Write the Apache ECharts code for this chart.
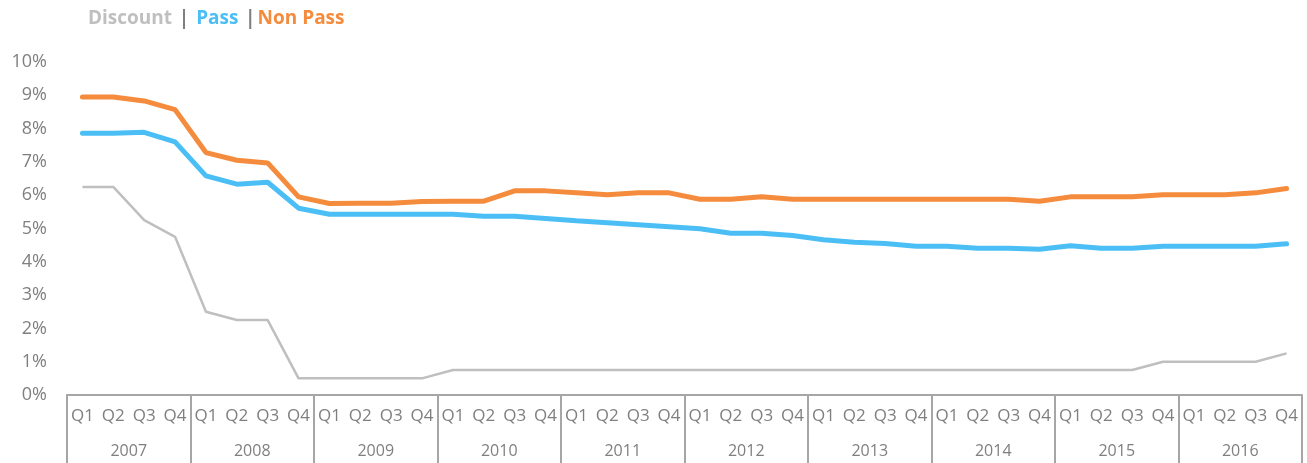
<!DOCTYPE html>
<html>
<head>
<meta charset="utf-8">
<script src="https://cdn.jsdelivr.net/npm/echarts@6/dist/echarts.min.js"></script>
<style>
  html, body { margin: 0; padding: 0; background: #fff; }
  #chart { width: 1307px; height: 463px; }
</style>
</head>
<body>
<div id="chart"></div>
<script>
const years = ["2007", "2008", "2009", "2010", "2011", "2012", "2013", "2014", "2015", "2016"];
const quarterNames = ["Q1", "Q2", "Q3", "Q4"];
const yTicks = [0, 1, 2, 3, 4, 5, 6, 7, 8, 9, 10];

// rates in %, one per quarter 2007 Q1 .. 2016 Q4
const discount = [
  6.25, 6.25, 5.25, 4.75, 2.5, 2.25, 2.25, 0.5, 0.5, 0.5,
  0.5, 0.5, 0.75, 0.75, 0.75, 0.75, 0.75, 0.75, 0.75, 0.75,
  0.75, 0.75, 0.75, 0.75, 0.75, 0.75, 0.75, 0.75, 0.75, 0.75,
  0.75, 0.75, 0.75, 0.75, 0.75, 1.0, 1.0, 1.0, 1.0, 1.25
];
const pass = [
  7.86, 7.86, 7.89, 7.60, 6.58, 6.33, 6.39, 5.61, 5.43, 5.43,
  5.43, 5.43, 5.43, 5.37, 5.37, 5.30, 5.23, 5.17, 5.11, 5.05,
  4.99, 4.86, 4.86, 4.79, 4.66, 4.59, 4.55, 4.47, 4.47, 4.41,
  4.41, 4.38, 4.48, 4.41, 4.41, 4.47, 4.47, 4.47, 4.47, 4.54
];
const nonPass = [
  8.95, 8.95, 8.83, 8.57, 7.28, 7.05, 6.97, 5.95, 5.75, 5.76,
  5.76, 5.81, 5.82, 5.82, 6.13, 6.13, 6.07, 6.01, 6.07, 6.07,
  5.88, 5.88, 5.95, 5.88, 5.88, 5.88, 5.88, 5.88, 5.88, 5.88,
  5.88, 5.82, 5.95, 5.95, 5.95, 6.01, 6.01, 6.01, 6.07, 6.20
];

const quarters = [];
years.forEach(y => quarterNames.forEach(q => quarters.push(q)));

const chart = echarts.init(document.getElementById("chart"));
const labelFont = "'Open Sans', 'Noto Sans', sans-serif";
const axisGray = "#a6a6a6";
const textGray = "#7f7f7f";

const option = {
  animation: false,
  textStyle: { fontFamily: labelFont },
  title: {
    left: 83,
    top: 4,
    text: "{d|Discount} {s|| }{p|Pass} {s||}{n|Non Pass}",
    textStyle: {
      rich: {
        d: { color: "#bfbfbf", fontSize: 19, fontWeight: "bold", fontFamily: labelFont },
        s: { color: textGray, fontSize: 19, fontWeight: "bold", fontFamily: labelFont, padding: [0, 2] },
        p: { color: "#4bbff5", fontSize: 19, fontWeight: "bold", fontFamily: labelFont },
        n: { color: "#f58b3c", fontSize: 19, fontWeight: "bold", fontFamily: labelFont }
      }
    }
  },
  grid: { left: 67, right: 5, top: 62, bottom: 68 },
  xAxis: [
    {
      type: "category",
      data: quarters,
      boundaryGap: true,
      axisLine: { lineStyle: { color: axisGray, width: 2 } },
      axisTick: { show: false },
      axisLabel: { interval: 0, color: textGray, fontSize: 17, margin: 13 }
    },
    {
      type: "category",
      data: years,
      position: "bottom",
      boundaryGap: true,
      axisLine: { show: false },
      axisTick: { show: true, length: 68, lineStyle: { color: axisGray, width: 2 } },
      axisLabel: { interval: 0, color: textGray, fontSize: 16, margin: 48 }
    }
  ],
  yAxis: {
    type: "value",
    min: yTicks[0],
    max: yTicks[yTicks.length - 1],
    interval: 1,
    splitLine: { show: false },
    axisLine: { show: false },
    axisTick: { show: false },
    axisLabel: { color: textGray, fontSize: 18, margin: 20, formatter: "{value}%" }
  },
  series: [
    {
      name: "Discount",
      type: "line",
      data: discount,
      symbol: "none",
      lineStyle: { color: "#bfbfbf", width: 2.5 }
    },
    {
      name: "Pass",
      type: "line",
      data: pass,
      symbol: "none",
      lineStyle: { color: "#4bbff5", width: 5, cap: "round" }
    },
    {
      name: "Non Pass",
      type: "line",
      data: nonPass,
      symbol: "none",
      lineStyle: { color: "#f58b3c", width: 5, cap: "round" }
    }
  ]
};

chart.setOption(option);
</script>
</body>
</html>
